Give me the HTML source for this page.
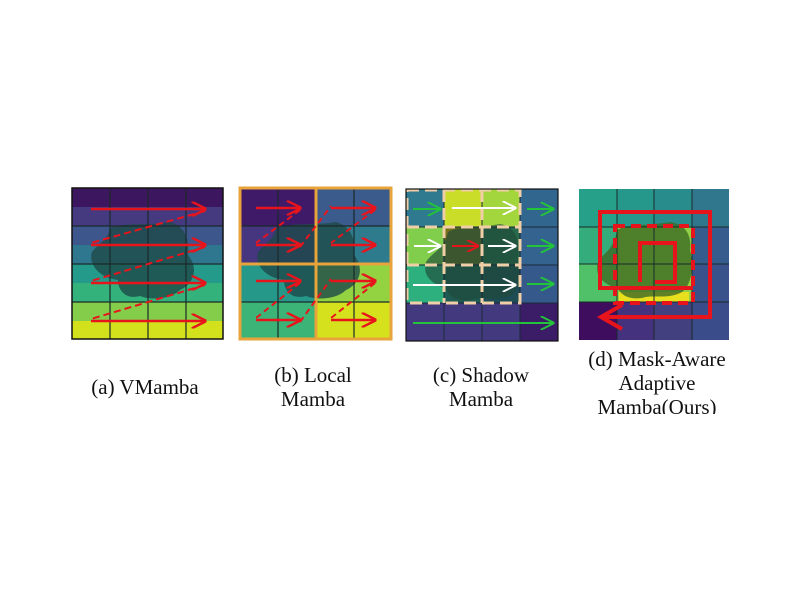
<!DOCTYPE html>
<html><head><meta charset="utf-8"><style>
body{margin:0;background:#fff;}
svg{display:block;}
text{font-family:"Liberation Serif",serif;font-size:21px;fill:#111;}
</style></head><body>
<svg width="800" height="600" viewBox="0 0 800 600">
<defs>
<marker id="ar" viewBox="0 0 10 10" refX="9" refY="5" markerWidth="6" markerHeight="6" orient="auto"><path d="M0,0 L10,5 L0,10" fill="none" stroke="#e8141c" stroke-width="1.6"/></marker>
<marker id="ag" viewBox="0 0 10 10" refX="9" refY="5" markerWidth="7" markerHeight="7" orient="auto"><path d="M0,0 L10,5 L0,10" fill="none" stroke="#22c43a" stroke-width="1.4"/></marker>
<marker id="aw" viewBox="0 0 10 10" refX="9" refY="5" markerWidth="7" markerHeight="7" orient="auto"><path d="M0,0 L10,5 L0,10" fill="none" stroke="#fff" stroke-width="1.4"/></marker>
</defs>

<!-- Panel A -->
<g>
<rect x="72" y="188" width="151" height="19" fill="#3d1660"/>
<rect x="72" y="207" width="151" height="19" fill="#453a80"/>
<rect x="72" y="226" width="151" height="19" fill="#3d568b"/>
<rect x="72" y="245" width="151" height="19" fill="#2e778e"/>
<rect x="72" y="264" width="151" height="19" fill="#239a8a"/>
<rect x="72" y="283" width="151" height="19" fill="#33b37b"/>
<rect x="72" y="302" width="151" height="19" fill="#84cd4b"/>
<rect x="72" y="321" width="151" height="18" fill="#d3e11d"/>
<path d="M110,228 C125,222 150,226 170,222 C185,226 190,240 188,255 C200,270 192,285 180,290 C170,300 150,300 140,296 C125,300 118,290 118,280 C100,278 88,265 92,252 C100,242 108,240 110,228Z" fill="#1e4a4a" opacity="0.8"/>
<g stroke="#1a2a2a" stroke-width="1.2">
<line x1="110" y1="188" x2="110" y2="339"/><line x1="148" y1="188" x2="148" y2="339"/><line x1="186" y1="188" x2="186" y2="339"/>
<line x1="72" y1="226" x2="223" y2="226"/><line x1="72" y1="264" x2="223" y2="264"/><line x1="72" y1="302" x2="223" y2="302"/>
</g>
<rect x="72" y="188" width="151" height="151" fill="none" stroke="#111" stroke-width="1.5"/>
<g stroke="#e8141c" stroke-width="2.5" fill="none">
<line x1="91" y1="209" x2="205" y2="209" marker-end="url(#ar)"/>
<line x1="91" y1="245" x2="205" y2="245" marker-end="url(#ar)"/>
<line x1="91" y1="283" x2="205" y2="283" marker-end="url(#ar)"/>
<line x1="91" y1="321" x2="205" y2="321" marker-end="url(#ar)"/>
<g stroke-dasharray="7,4" stroke-width="2"><line x1="205" y1="211" x2="91" y2="243"/><line x1="205" y1="247" x2="91" y2="281"/><line x1="205" y1="285" x2="91" y2="319"/></g>
</g>
</g>

<!-- Panel B -->
<g>
<rect x="240" y="188" width="76" height="38" fill="#3e1a69"/>
<rect x="240" y="226" width="76" height="38" fill="#46357f"/>
<rect x="316" y="188" width="75" height="38" fill="#3a5b8c"/>
<rect x="316" y="226" width="75" height="38" fill="#2f7b8e"/>
<rect x="240" y="264" width="76" height="38" fill="#26988a"/>
<rect x="240" y="302" width="76" height="37" fill="#3cb478"/>
<rect x="316" y="264" width="75" height="38" fill="#93d341"/>
<rect x="316" y="302" width="75" height="37" fill="#d6e11d"/>
<path d="M276,228 C291,222 316,226 336,222 C351,226 356,240 354,255 C366,270 358,285 346,290 C336,300 316,300 306,296 C291,300 284,290 284,280 C266,278 254,265 258,252 C266,242 274,240 276,228Z" fill="#1e4a4a" opacity="0.8"/>
<g stroke="#1a2a2a" stroke-width="1.2">
<line x1="278" y1="188" x2="278" y2="339"/><line x1="354" y1="188" x2="354" y2="339"/>
<line x1="240" y1="226" x2="391" y2="226"/><line x1="240" y1="302" x2="391" y2="302"/>
</g>
<g stroke="#e8a33a" stroke-width="3" fill="none">
<rect x="240" y="188" width="151" height="151"/>
<line x1="316" y1="188" x2="316" y2="339"/><line x1="240" y1="264" x2="391" y2="264"/>
</g>
<g stroke="#e8141c" stroke-width="2.5" fill="none">
<line x1="256" y1="208" x2="300" y2="208" marker-end="url(#ar)"/>
<line x1="256" y1="245" x2="300" y2="245" marker-end="url(#ar)"/>
<line x1="331" y1="208" x2="375" y2="208" marker-end="url(#ar)"/>
<line x1="331" y1="245" x2="375" y2="245" marker-end="url(#ar)"/>
<line x1="256" y1="281" x2="300" y2="281" marker-end="url(#ar)"/>
<line x1="256" y1="320" x2="300" y2="320" marker-end="url(#ar)"/>
<line x1="331" y1="281" x2="375" y2="281" marker-end="url(#ar)"/>
<line x1="331" y1="320" x2="375" y2="320" marker-end="url(#ar)"/>
<g stroke-dasharray="6,4" stroke-width="2"><line x1="300" y1="210" x2="256" y2="243"/><line x1="375" y1="210" x2="331" y2="243"/><line x1="300" y1="283" x2="256" y2="318"/><line x1="375" y1="283" x2="331" y2="318"/><line x1="300" y1="247" x2="331" y2="206"/><line x1="300" y1="322" x2="331" y2="279"/></g>
</g>
</g>

<!-- Panel C -->
<g>
<rect x="406" y="189" width="38" height="38" fill="#2f7a8e"/>
<rect x="444" y="189" width="38" height="38" fill="#c9dd29"/>
<rect x="482" y="189" width="38" height="38" fill="#a3d53d"/>
<rect x="520" y="189" width="38" height="38" fill="#31678e"/>
<rect x="406" y="227" width="38" height="38" fill="#80ce4b"/>
<rect x="444" y="227" width="38" height="38" fill="#74701c"/>
<rect x="482" y="227" width="38" height="38" fill="#2a6a4c"/>
<rect x="520" y="227" width="38" height="38" fill="#33638e"/>
<rect x="406" y="265" width="38" height="38" fill="#2eb07e"/>
<rect x="444" y="265" width="38" height="38" fill="#1f5a52"/>
<rect x="482" y="265" width="38" height="38" fill="#1d4c55"/>
<rect x="520" y="265" width="38" height="38" fill="#36598c"/>
<rect x="406" y="303" width="152" height="38" fill="#43397f"/>
<rect x="520" y="303" width="38" height="38" fill="#3b1c66"/>
<path d="M448,232 C460,225 480,228 500,224 C515,226 520,240 518,255 C522,270 520,290 510,296 C495,302 480,296 470,300 C455,302 448,295 446,288 C432,285 422,275 426,262 C432,252 444,250 448,232Z" fill="#1e4a3a" opacity="0.65"/>
<g stroke="#1a2a3a" stroke-width="1">
<line x1="444" y1="189" x2="444" y2="341"/><line x1="482" y1="189" x2="482" y2="341"/><line x1="520" y1="189" x2="520" y2="341"/>
<line x1="406" y1="227" x2="558" y2="227"/><line x1="406" y1="265" x2="558" y2="265"/><line x1="406" y1="303" x2="558" y2="303"/>
</g>
<g stroke="#f0cfa8" stroke-width="3" stroke-dasharray="12,6" fill="none">
<rect x="407" y="190" width="113" height="113"/>
<line x1="444" y1="190" x2="444" y2="303"/><line x1="482" y1="190" x2="482" y2="303"/>
<line x1="407" y1="227" x2="520" y2="227"/><line x1="407" y1="265" x2="520" y2="265"/>
</g>
<rect x="406" y="189" width="152" height="152" fill="none" stroke="#111" stroke-width="1.2"/>
<g stroke-width="2" fill="none">
<line x1="413" y1="209" x2="440" y2="209" stroke="#22c43a" marker-end="url(#ag)"/>
<line x1="452" y1="208" x2="515" y2="208" stroke="#fff" marker-end="url(#aw)"/>
<line x1="527" y1="209" x2="553" y2="209" stroke="#22c43a" marker-end="url(#ag)"/>
<line x1="414" y1="246" x2="440" y2="246" stroke="#fff" marker-end="url(#aw)"/>
<line x1="452" y1="246" x2="478" y2="246" stroke="#e8141c" marker-end="url(#ar)"/>
<line x1="488" y1="246" x2="515" y2="246" stroke="#fff" marker-end="url(#aw)"/>
<line x1="527" y1="246" x2="553" y2="246" stroke="#22c43a" marker-end="url(#ag)"/>
<line x1="413" y1="285" x2="515" y2="285" stroke="#fff" marker-end="url(#aw)"/>
<line x1="527" y1="284" x2="553" y2="284" stroke="#22c43a" marker-end="url(#ag)"/>
<line x1="413" y1="323" x2="553" y2="323" stroke="#22c43a" marker-end="url(#ag)"/>
</g>
</g>

<!-- Panel D -->
<g>
<rect x="579" y="189" width="38" height="38" fill="#27a089"/>
<rect x="617" y="189" width="37" height="38" fill="#25988b"/>
<rect x="654" y="189" width="38" height="38" fill="#298c8c"/>
<rect x="692" y="189" width="37" height="38" fill="#30778e"/>
<rect x="579" y="227" width="38" height="37" fill="#34ac7c"/>
<rect x="579" y="264" width="38" height="38" fill="#50c169"/>
<rect x="617" y="227" width="75" height="75" fill="#8fd044"/>
<rect x="692" y="227" width="37" height="37" fill="#365c8d"/>
<rect x="692" y="264" width="37" height="38" fill="#3a528b"/>
<rect x="579" y="302" width="38" height="38" fill="#3e0d5e"/>
<rect x="617" y="302" width="37" height="38" fill="#45327e"/>
<rect x="654" y="302" width="38" height="38" fill="#42407f"/>
<rect x="692" y="302" width="37" height="38" fill="#3b4c8a"/>
<rect x="619" y="292" width="70" height="10" fill="#e8e01e"/>
<path d="M617,230 C630,223 650,226 670,222 C685,224 692,235 690,250 C694,265 692,285 682,292 C668,300 652,294 642,298 C628,300 620,294 618,288 C603,285 594,275 598,262 C604,252 614,250 617,230Z" fill="#3d6a25" opacity="0.8"/>
<g stroke="#1a2a2a" stroke-width="1">
<line x1="617" y1="189" x2="617" y2="340"/><line x1="654" y1="189" x2="654" y2="340"/><line x1="692" y1="189" x2="692" y2="340"/>
<line x1="579" y1="227" x2="729" y2="227"/><line x1="579" y1="264" x2="729" y2="264"/><line x1="579" y1="302" x2="729" y2="302"/>
</g>
<g stroke="#e8141c" stroke-width="4" fill="none">
<polyline points="693,288 600,288 600,212 710,212 710,317 603,317"/>
<path d="M622,305 L601,317 L622,329"/>
<rect x="615" y="226" width="78" height="77" stroke-dasharray="10,6"/>
<polyline points="640,282 640,243 675,243 675,282 655,282"/>
</g>
</g>

<!-- Labels -->
<g>
<text x="145" y="394" text-anchor="middle">(a) VMamba</text>
<text x="313" y="382" text-anchor="middle"><tspan x="313">(b) Local</tspan><tspan x="313" dy="24">Mamba</tspan></text>
<text x="481" y="382" text-anchor="middle"><tspan x="481">(c) Shadow</tspan><tspan x="481" dy="24">Mamba</tspan></text>
<text x="657" y="366" text-anchor="middle"><tspan x="657">(d) Mask-Aware</tspan><tspan x="657" dy="24">Adaptive</tspan><tspan x="657" dy="24">Mamba(Ours)</tspan></text>
<rect x="560" y="414" width="200" height="20" fill="#fff"/>
</g>
</svg>
</body></html>
